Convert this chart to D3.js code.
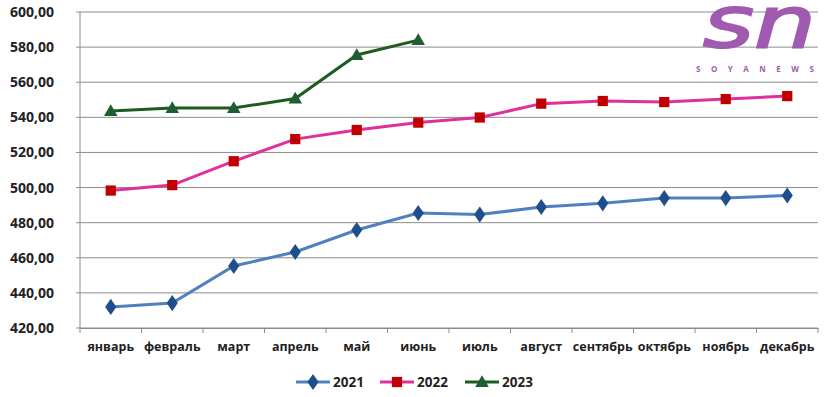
<!DOCTYPE html>
<html>
<head>
<meta charset="utf-8">
<script src="https://cdn.jsdelivr.net/npm/d3@7"></script>
<style>
body { margin: 0; background: #fff; }
svg text { font-family: "Open Sans", "Noto Sans", sans-serif; font-weight: bold; fill: #222; }
</style>
</head>
<body>
<svg width="831" height="397"></svg>
<script>
var months = ['январь', 'февраль', 'март', 'апрель', 'май', 'июнь', 'июль', 'август', 'сентябрь', 'октябрь', 'ноябрь', 'декабрь'];
var yTicks = [420, 440, 460, 480, 500, 520, 540, 560, 580, 600];
var v2021 = [432.0, 434.2, 455.3, 463.3, 475.8, 485.5, 484.6, 488.9, 491.0, 494.0, 494.0, 495.5];
var v2022 = [498.3, 501.4, 515.0, 527.6, 532.8, 537.0, 539.9, 547.8, 549.3, 548.7, 550.4, 552.1];
var v2023 = [543.6, 545.3, 545.3, 550.7, 575.5, 584.0];

var series = [
    { name: '2021', values: v2021, line: '#4F81BD', marker: '#1F4E8C', shape: d3.symbolDiamond, size: 75 },
    { name: '2022', values: v2022, line: '#E0309E', marker: '#C00000', shape: d3.symbolSquare, size: 105 },
    { name: '2023', values: v2023, line: '#1E5C1E', marker: '#1E5C32', shape: d3.symbolTriangle, size: 80 }
];

var svg = d3.select('svg');
var plotLeft = 80, plotRight = 818, plotTop = 12, plotBottom = 328;

var x = d3.scaleBand().domain(months).range([plotLeft, plotRight]);
var y = d3.scaleLinear().domain([420, 600]).range([plotBottom, plotTop]);

// gridlines
svg.append('g')
    .selectAll('line')
    .data(yTicks)
    .enter()
    .append('line')
    .attr('x1', plotLeft - 4)
    .attr('x2', plotRight)
    .attr('y1', function(d) { return y(d); })
    .attr('y2', function(d) { return y(d); })
    .attr('stroke', '#8c8c8c')
    .attr('stroke-width', 1);

// y labels
svg.append('g')
    .selectAll('text')
    .data(yTicks)
    .enter()
    .append('text')
    .attr('x', 54)
    .attr('y', function(d) { return y(d) + 5; })
    .attr('text-anchor', 'end')
    .style('font-size', '14px')
    .text(function(d) { return d3.format('.2f')(d).replace('.', ','); });

// y axis line
svg.append('line')
    .attr('x1', plotLeft).attr('x2', plotLeft)
    .attr('y1', plotTop).attr('y2', plotBottom)
    .attr('stroke', '#8c8c8c');

// x axis
var xAxis = d3.axisBottom(x).tickSize(0).tickPadding(14);
var gx = svg.append('g')
    .attr('transform', 'translate(0,' + plotBottom + ')')
    .call(xAxis);
gx.select('.domain').attr('stroke', '#8c8c8c');
gx.selectAll('text').style('font-size', '12.5px').attr('fill', '#222');

// x tick marks at band boundaries
svg.append('g')
    .selectAll('line')
    .data(d3.range(months.length + 1))
    .enter()
    .append('line')
    .attr('x1', function(i) { return plotLeft + i * x.bandwidth(); })
    .attr('x2', function(i) { return plotLeft + i * x.bandwidth(); })
    .attr('y1', plotBottom)
    .attr('y2', plotBottom + 5)
    .attr('stroke', '#8c8c8c');

var line = d3.line()
    .x(function(d, i) { return x(months[i]) + x.bandwidth() / 2; })
    .y(function(d) { return y(d); });

function markerTransform(s, px, py) {
    var sx = s.shape === d3.symbolDiamond ? 'scale(1.2,1)' : '';
    var dy = s.shape === d3.symbolTriangle ? 1 : 0;
    return 'translate(' + px + ',' + (py + dy) + ')' + sx;
}

series.forEach(function(s) {
    svg.append('path')
        .datum(s.values)
        .attr('d', line)
        .attr('fill', 'none')
        .attr('stroke', s.line)
        .attr('stroke-width', 3);
    svg.append('g')
        .selectAll('path')
        .data(s.values)
        .enter()
        .append('path')
        .attr('d', d3.symbol().type(s.shape).size(s.size))
        .attr('transform', function(d, i) {
            return markerTransform(s, x(months[i]) + x.bandwidth() / 2, y(d));
        })
        .attr('fill', s.marker);
});

// legend
var legendX = [296, 380, 465];
var legend = svg.append('g')
    .selectAll('g')
    .data(series)
    .enter()
    .append('g')
    .attr('transform', function(d, i) { return 'translate(' + legendX[i] + ',382)'; });
legend.append('line')
    .attr('x1', 0).attr('x2', 34)
    .attr('stroke', function(d) { return d.line; })
    .attr('stroke-width', 3);
legend.append('path')
    .attr('d', function(d) { return d3.symbol().type(d.shape).size(d.size)(); })
    .attr('transform', function(d) { return markerTransform(d, 17, 0); })
    .attr('fill', function(d) { return d.marker; });
legend.append('text')
    .attr('x', 37)
    .attr('y', 5)
    .style('font-size', '13.5px')
    .text(function(d) { return d.name; });

// logo
var logo = svg.append('g');
logo.append('text')
    .attr('x', 703)
    .attr('y', 47)
    .attr('textLength', 113)
    .attr('lengthAdjust', 'spacingAndGlyphs')
    .style('font-family', '"DejaVu Sans", sans-serif')
    .style('font-style', 'italic')
    .style('font-weight', 'normal')
    .style('font-size', '72px')
    .style('fill', '#A05AB0')
    .style('stroke', '#A05AB0')
    .style('stroke-width', 2)
    .text('sn');
logo.append('text')
    .attr('x', 696)
    .attr('y', 72)
    .attr('textLength', 118)
    .style('font-size', '8px')
    .style('fill', '#A05AB0')
    .text('SOYANEWS');
</script>
</body>
</html>
